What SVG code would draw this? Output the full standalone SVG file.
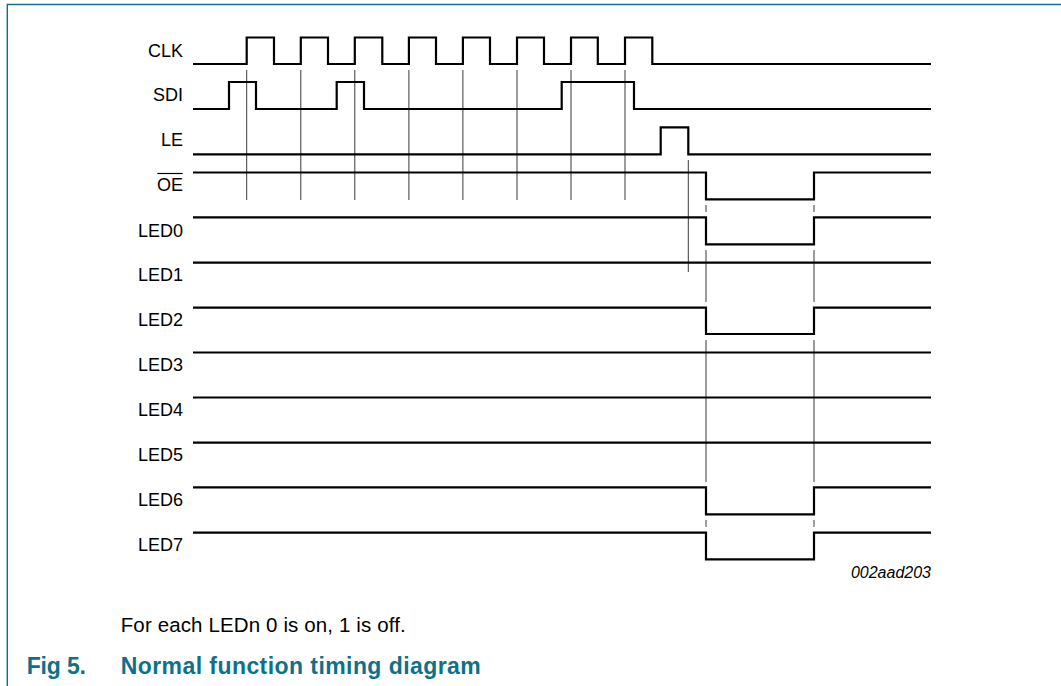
<svg xmlns="http://www.w3.org/2000/svg" width="1061" height="686" viewBox="0 0 1061 686">
<style>
.wave{fill:none;stroke:#000;stroke-width:2.2;stroke-linejoin:miter;stroke-linecap:butt}
.grid{fill:none;stroke:#3a3a3a;stroke-width:1}
.lbl{font-family:"Liberation Sans",Arial,sans-serif;font-size:18px;fill:#000;text-anchor:end}
.cap{font-family:"Liberation Sans",Arial,sans-serif;font-size:20.5px;fill:#000}
.ttl{font-family:"Liberation Sans",Arial,sans-serif;font-size:23px;font-weight:bold;fill:#0f7189}
.code{font-family:"Liberation Sans",Arial,sans-serif;font-size:16px;font-style:italic;fill:#000;text-anchor:end}
.frame{fill:none;stroke:#0f7189;stroke-width:1.4}
</style>
<rect width="1061" height="686" fill="#fff"/>
<path class="frame" d="M7.3,686 V4.5 H1061"/>

<g id="connectors">
<path class="grid" d="M246.7,70 V200 M300.8,70 V200 M354.8,70 V200 M408.9,70 V200 M462.9,70 V200 M517,70 V200 M571,70 V200 M625,70 V200"/>
<path class="grid" d="M688.3,160 V272"/>
<path class="grid" d="M706,205 V212 M706,250 V302 M706,340 V482 M706,520 V527"/>
<path class="grid" d="M814,205 V212 M814,250 V302 M814,340 V482 M814,520 V527"/>
</g>

<g id="CLK">
<text class="lbl" x="183" y="56.5">CLK</text>
<path class="wave" d="M193,64 H246.7 V37.5 H274 V64 H300.8 V37.5 H328 V64 H354.8 V37.5 H382.3 V64 H408.9 V37.5 H436 V64 H462.9 V37.5 H490 V64 H517 V37.5 H544 V64 H571 V37.5 H597.8 V64 H625 V37.5 H652.3 V64 H931"/>
</g>
<g id="SDI">
<text class="lbl" x="183" y="101">SDI</text>
<path class="wave" d="M193,109 H229 V82 H256 V109 H336.7 V82 H364 V109 H561.7 V82 H634 V109 H931"/>
</g>
<g id="LE">
<text class="lbl" x="183" y="146">LE</text>
<path class="wave" d="M193,154.3 H660.7 V127.3 H688.3 V154.3 H931"/>
</g>
<g id="OE">
<text class="lbl" x="183" y="190.7">OE</text>
<line x1="157.3" y1="173.5" x2="182.7" y2="173.5" stroke="#000" stroke-width="1.2"/>
<path class="wave" d="M193,172.5 H706 V199.3 H814 V172.5 H931"/>
</g>
<g id="LED0">
<text class="lbl" x="183" y="236.7">LED0</text>
<path class="wave" d="M193,217.3 H706 V244.3 H814 V217.3 H931"/>
</g>
<g id="LED1">
<text class="lbl" x="183" y="281">LED1</text>
<path class="wave" d="M193,262.7 H931"/>
</g>
<g id="LED2">
<text class="lbl" x="183" y="326">LED2</text>
<path class="wave" d="M193,307.7 H706 V334 H814 V307.7 H931"/>
</g>
<g id="LED3">
<text class="lbl" x="183" y="371">LED3</text>
<path class="wave" d="M193,352.5 H931"/>
</g>
<g id="LED4">
<text class="lbl" x="183" y="416">LED4</text>
<path class="wave" d="M193,397.5 H931"/>
</g>
<g id="LED5">
<text class="lbl" x="183" y="461">LED5</text>
<path class="wave" d="M193,442.7 H931"/>
</g>
<g id="LED6">
<text class="lbl" x="183" y="506">LED6</text>
<path class="wave" d="M193,487.3 H706 V514.3 H814 V487.3 H931"/>
</g>
<g id="LED7">
<text class="lbl" x="183" y="551">LED7</text>
<path class="wave" d="M193,532.7 H706 V559.3 H814 V532.7 H931"/>
</g>

<text class="code" x="931" y="577.7">002aad203</text>
<text class="cap" x="120.7" y="631.7" textLength="285" lengthAdjust="spacing">For each LEDn 0 is on, 1 is off.</text>
<text class="ttl" x="26.7" y="674.3" textLength="59.3" lengthAdjust="spacing">Fig 5.</text>
<text class="ttl" x="120.7" y="674.3" textLength="360" lengthAdjust="spacing">Normal function timing diagram</text>
</svg>
